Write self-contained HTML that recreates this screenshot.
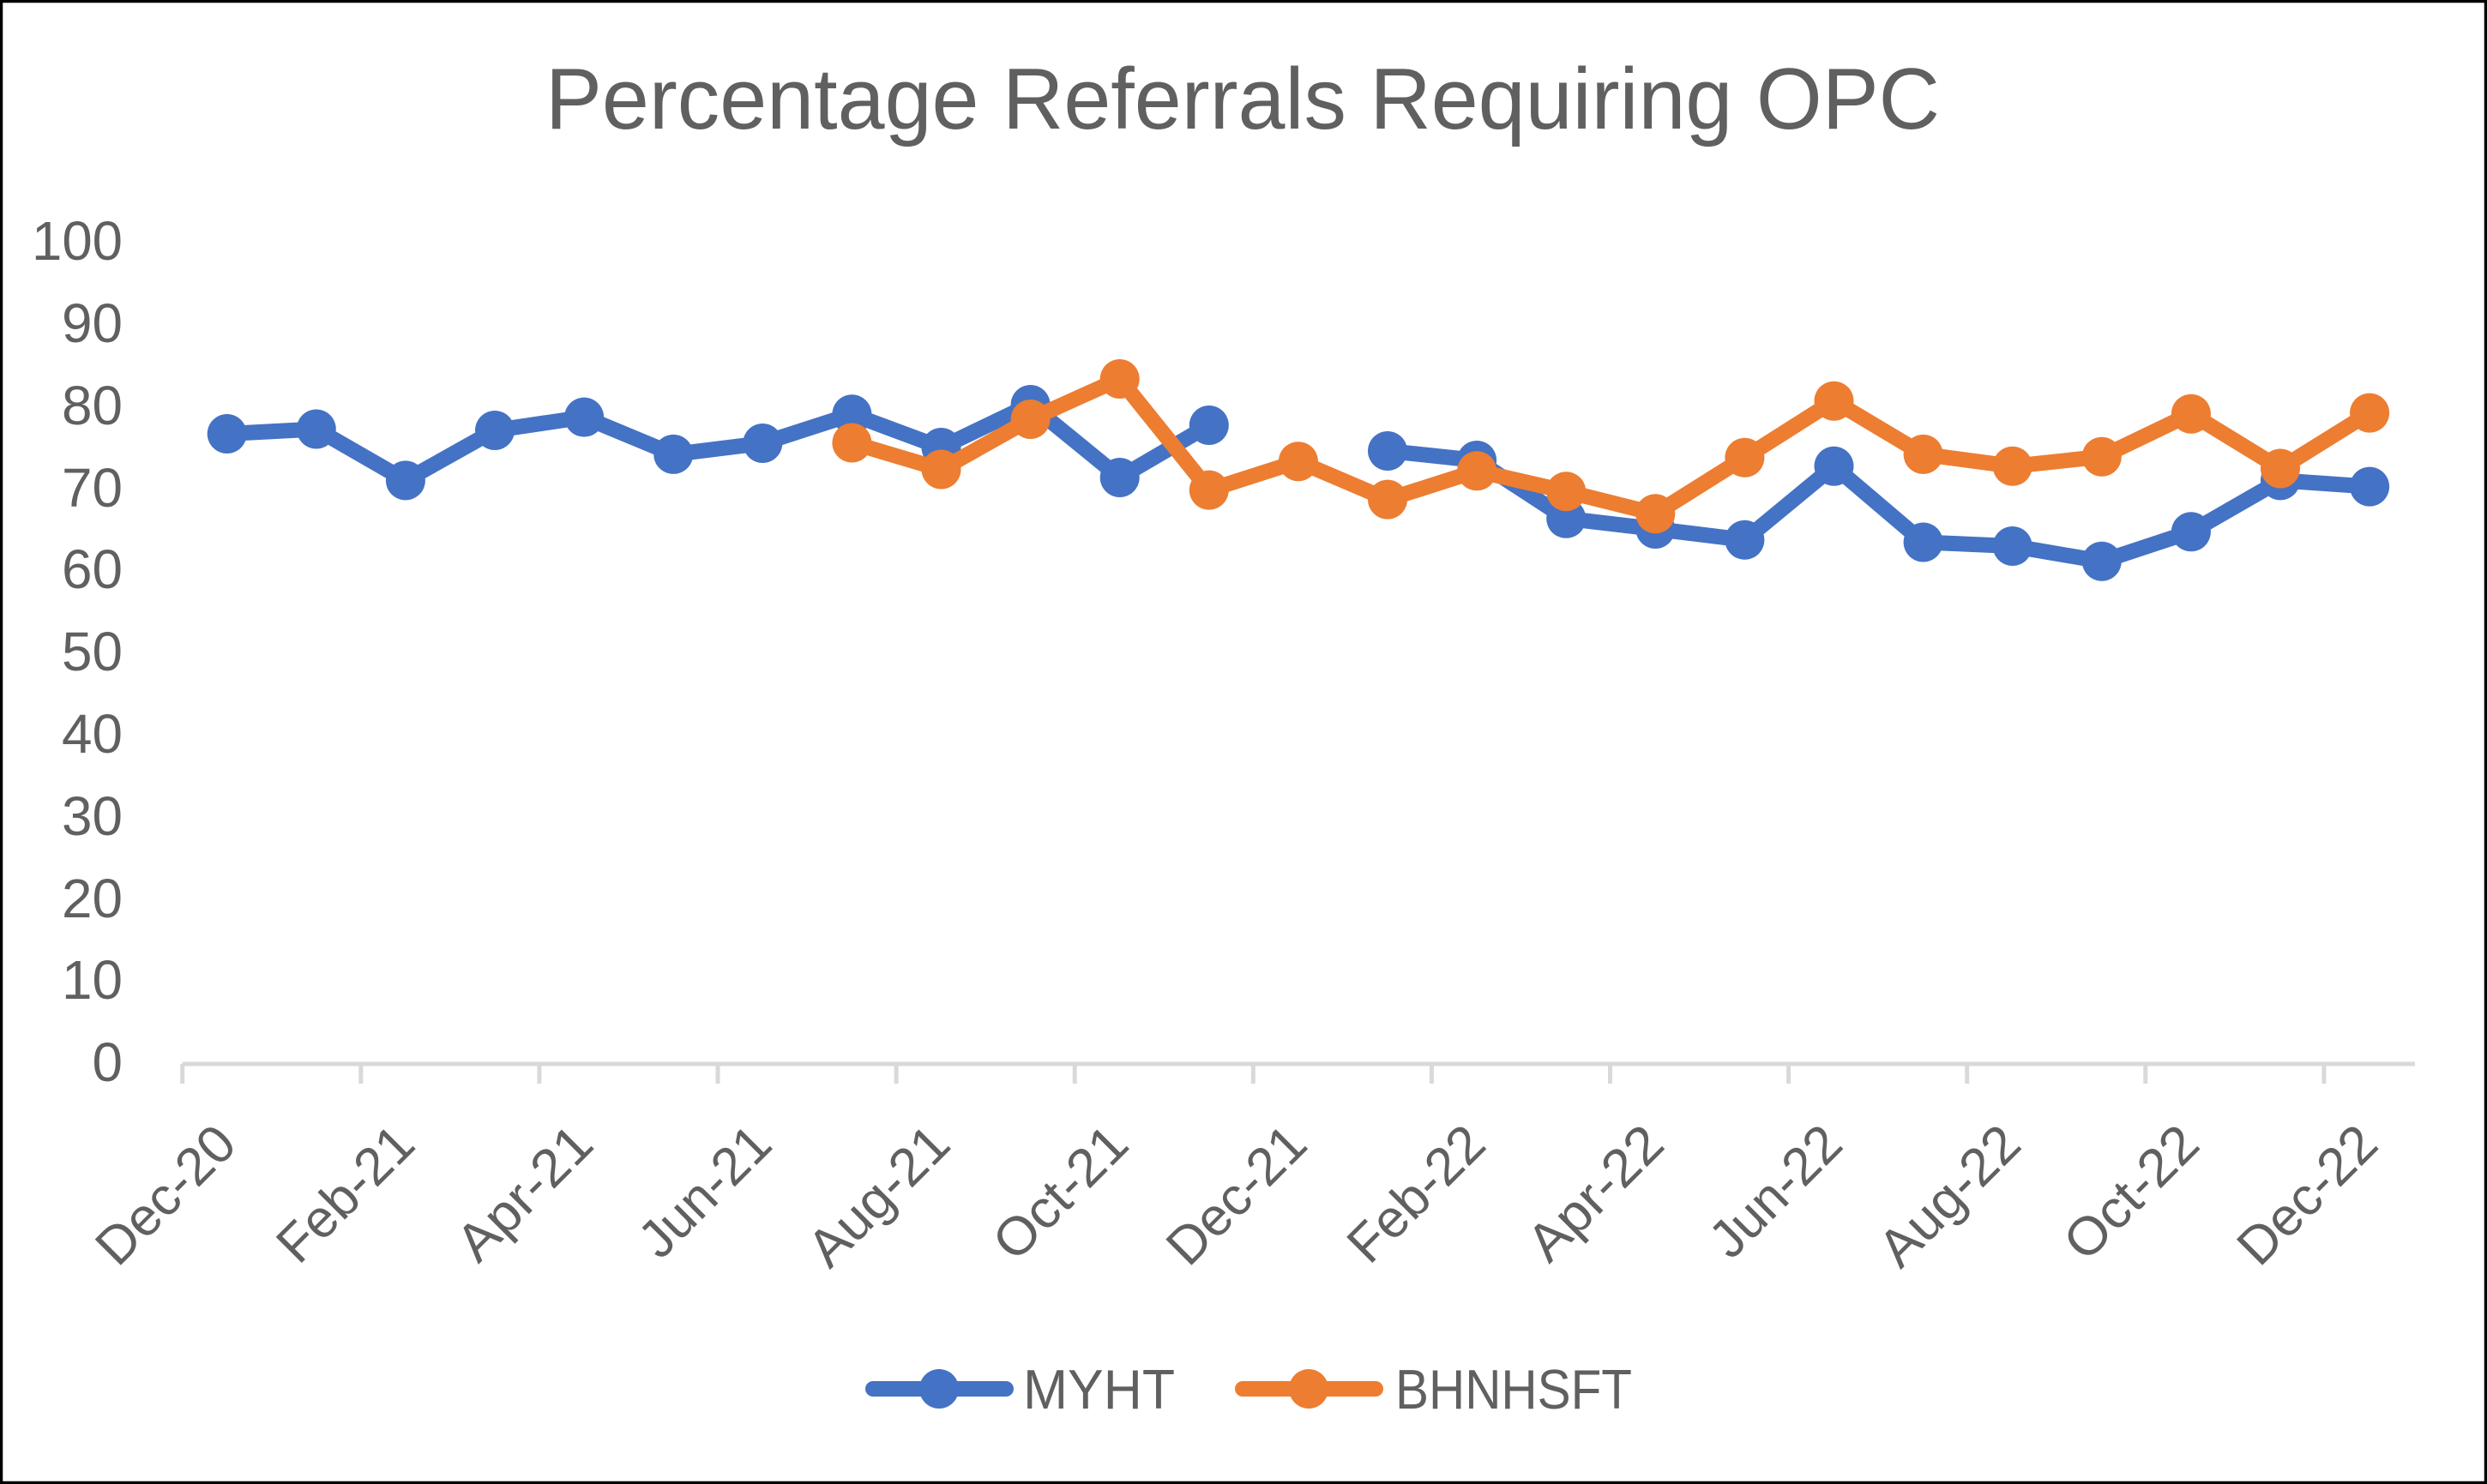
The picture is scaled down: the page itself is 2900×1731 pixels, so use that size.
<!DOCTYPE html>
<html>
<head>
<meta charset="utf-8">
<style>
html,body{margin:0;padding:0;background:#fff;}
svg{display:block;}
text{font-family:"Liberation Sans",Arial,sans-serif;fill:#606060;}
</style>
</head>
<body>
<svg width="2900" height="1731" viewBox="0 0 2900 1731" xmlns="http://www.w3.org/2000/svg">
<rect x="0" y="0" width="2900" height="1731" fill="#fff"/>
<rect x="1.5" y="1.5" width="2897" height="1728" fill="none" stroke="#000" stroke-width="3.5"/>

<!-- Title -->
<text x="1449" y="150" font-size="101" text-anchor="middle" textLength="1626" lengthAdjust="spacingAndGlyphs">Percentage Referrals Requiring OPC</text>

<!-- Y axis labels -->
<g font-size="64" text-anchor="end">
<text x="143" y="303" textLength="106" lengthAdjust="spacingAndGlyphs">100</text>
<text x="143" y="399" textLength="71" lengthAdjust="spacingAndGlyphs">90</text>
<text x="143" y="495" textLength="71" lengthAdjust="spacingAndGlyphs">80</text>
<text x="143" y="591" textLength="71" lengthAdjust="spacingAndGlyphs">70</text>
<text x="143" y="686" textLength="71" lengthAdjust="spacingAndGlyphs">60</text>
<text x="143" y="782" textLength="71" lengthAdjust="spacingAndGlyphs">50</text>
<text x="143" y="878" textLength="71" lengthAdjust="spacingAndGlyphs">40</text>
<text x="143" y="974" textLength="71" lengthAdjust="spacingAndGlyphs">30</text>
<text x="143" y="1070" textLength="71" lengthAdjust="spacingAndGlyphs">20</text>
<text x="143" y="1165" textLength="71" lengthAdjust="spacingAndGlyphs">10</text>
<text x="143" y="1261" textLength="35.5" lengthAdjust="spacingAndGlyphs">0</text>
</g>

<!-- X axis -->
<g stroke="#d9d9d9" stroke-width="5" fill="none">
<line x1="212.7" y1="1241" x2="2816" y2="1241"/>
<line x1="212.7" y1="1241" x2="212.7" y2="1264"/>
<line x1="420.8" y1="1241" x2="420.8" y2="1264"/>
<line x1="628.9" y1="1241" x2="628.9" y2="1264"/>
<line x1="837.0" y1="1241" x2="837.0" y2="1264"/>
<line x1="1045.1" y1="1241" x2="1045.1" y2="1264"/>
<line x1="1253.2" y1="1241" x2="1253.2" y2="1264"/>
<line x1="1461.3" y1="1241" x2="1461.3" y2="1264"/>
<line x1="1669.4" y1="1241" x2="1669.4" y2="1264"/>
<line x1="1877.5" y1="1241" x2="1877.5" y2="1264"/>
<line x1="2085.6" y1="1241" x2="2085.6" y2="1264"/>
<line x1="2293.7" y1="1241" x2="2293.7" y2="1264"/>
<line x1="2501.8" y1="1241" x2="2501.8" y2="1264"/>
<line x1="2709.9" y1="1241" x2="2709.9" y2="1264"/>
</g>

<!-- X tick labels -->
<g font-size="62" text-anchor="end">
<text transform="translate(278.7,1338) rotate(-45)" textLength="200" lengthAdjust="spacingAndGlyphs">Dec-20</text>
<text transform="translate(486.8,1338) rotate(-45)" textLength="196" lengthAdjust="spacingAndGlyphs">Feb-21</text>
<text transform="translate(694.9,1338) rotate(-45)" textLength="194" lengthAdjust="spacingAndGlyphs">Apr-21</text>
<text transform="translate(903.0,1338) rotate(-45)" textLength="188" lengthAdjust="spacingAndGlyphs">Jun-21</text>
<text transform="translate(1111.1,1338) rotate(-45)" textLength="203" lengthAdjust="spacingAndGlyphs">Aug-21</text>
<text transform="translate(1319.2,1338) rotate(-45)" textLength="192" lengthAdjust="spacingAndGlyphs">Oct-21</text>
<text transform="translate(1527.3,1338) rotate(-45)" textLength="200" lengthAdjust="spacingAndGlyphs">Dec-21</text>
<text transform="translate(1735.4,1338) rotate(-45)" textLength="196" lengthAdjust="spacingAndGlyphs">Feb-22</text>
<text transform="translate(1943.5,1338) rotate(-45)" textLength="194" lengthAdjust="spacingAndGlyphs">Apr-22</text>
<text transform="translate(2151.6,1338) rotate(-45)" textLength="188" lengthAdjust="spacingAndGlyphs">Jun-22</text>
<text transform="translate(2359.7,1338) rotate(-45)" textLength="203" lengthAdjust="spacingAndGlyphs">Aug-22</text>
<text transform="translate(2567.8,1338) rotate(-45)" textLength="192" lengthAdjust="spacingAndGlyphs">Oct-22</text>
<text transform="translate(2775.9,1338) rotate(-45)" textLength="200" lengthAdjust="spacingAndGlyphs">Dec-22</text>
</g>

<!-- MYHT series -->
<g stroke="#4472C4" stroke-width="18" fill="none" stroke-linejoin="round" stroke-linecap="round">
<polyline points="264.7,506 368.8,500.5 472.9,560.4 577.0,502 681.1,486.6 785.2,529.9 889.3,517 993.4,483.3 1097.5,522 1201.6,472 1305.7,557 1409.8,496"/>
<polyline points="1618.0,526 1722.1,537 1826.2,604.8 1930.3,617 2034.4,629.8 2138.5,543.8 2242.6,632.5 2346.7,637 2450.8,654.7 2554.9,620.3 2659.0,560.4 2763.1,567.6"/>
</g>
<g fill="#4472C4">
<circle cx="264.7" cy="506" r="23"/>
<circle cx="368.8" cy="500.5" r="23"/>
<circle cx="472.9" cy="560.4" r="23"/>
<circle cx="577.0" cy="502" r="23"/>
<circle cx="681.1" cy="486.6" r="23"/>
<circle cx="785.2" cy="529.9" r="23"/>
<circle cx="889.3" cy="517" r="23"/>
<circle cx="993.4" cy="483.3" r="23"/>
<circle cx="1097.5" cy="522" r="23"/>
<circle cx="1201.6" cy="472" r="23"/>
<circle cx="1305.7" cy="557" r="23"/>
<circle cx="1409.8" cy="496" r="23"/>
<circle cx="1618.0" cy="526" r="23"/>
<circle cx="1722.1" cy="537" r="23"/>
<circle cx="1826.2" cy="604.8" r="23"/>
<circle cx="1930.3" cy="617" r="23"/>
<circle cx="2034.4" cy="629.8" r="23"/>
<circle cx="2138.5" cy="543.8" r="23"/>
<circle cx="2242.6" cy="632.5" r="23"/>
<circle cx="2346.7" cy="637" r="23"/>
<circle cx="2450.8" cy="654.7" r="23"/>
<circle cx="2554.9" cy="620.3" r="23"/>
<circle cx="2659.0" cy="560.4" r="23"/>
<circle cx="2763.1" cy="567.6" r="23"/>
</g>

<!-- BHNHSFT series -->
<g stroke="#ED7D31" stroke-width="18" fill="none" stroke-linejoin="round" stroke-linecap="round">
<polyline points="993.4,516.5 1097.5,547.5 1201.6,489 1305.7,442 1409.8,571.6 1513.9,538.2 1618.0,582.6 1722.1,549.3 1826.2,573.2 1930.3,599.2 2034.4,533.8 2138.5,467.7 2242.6,529.9 2346.7,543.8 2450.8,532.7 2554.9,482.7 2659.0,546.5 2763.1,481.6"/>
</g>
<g fill="#ED7D31">
<circle cx="993.4" cy="516.5" r="23"/>
<circle cx="1097.5" cy="547.5" r="23"/>
<circle cx="1201.6" cy="489" r="23"/>
<circle cx="1305.7" cy="442" r="23"/>
<circle cx="1409.8" cy="571.6" r="23"/>
<circle cx="1513.9" cy="538.2" r="23"/>
<circle cx="1618.0" cy="582.6" r="23"/>
<circle cx="1722.1" cy="549.3" r="23"/>
<circle cx="1826.2" cy="573.2" r="23"/>
<circle cx="1930.3" cy="599.2" r="23"/>
<circle cx="2034.4" cy="533.8" r="23"/>
<circle cx="2138.5" cy="467.7" r="23"/>
<circle cx="2242.6" cy="529.9" r="23"/>
<circle cx="2346.7" cy="543.8" r="23"/>
<circle cx="2450.8" cy="532.7" r="23"/>
<circle cx="2554.9" cy="482.7" r="23"/>
<circle cx="2659.0" cy="546.5" r="23"/>
<circle cx="2763.1" cy="481.6" r="23"/>
</g>

<!-- Legend -->
<line x1="1018" y1="1620" x2="1173" y2="1620" stroke="#4472C4" stroke-width="18" stroke-linecap="round"/>
<circle cx="1095" cy="1620" r="23" fill="#4472C4"/>
<text x="1193" y="1643" font-size="65" textLength="177" lengthAdjust="spacingAndGlyphs">MYHT</text>
<line x1="1449" y1="1620" x2="1604" y2="1620" stroke="#ED7D31" stroke-width="18" stroke-linecap="round"/>
<circle cx="1526" cy="1620" r="23" fill="#ED7D31"/>
<text x="1627" y="1643" font-size="65" textLength="276" lengthAdjust="spacingAndGlyphs">BHNHSFT</text>
</svg>
</body>
</html>
